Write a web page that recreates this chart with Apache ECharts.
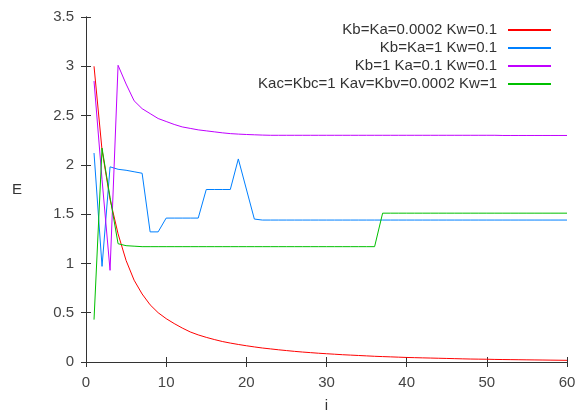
<!DOCTYPE html>
<html>
<head>
<meta charset="utf-8">
<script src="https://cdn.jsdelivr.net/npm/echarts@6/dist/echarts.min.js"></script>
<style>
html,body{margin:0;padding:0;background:#fff;}
#chart{width:576px;height:412px;}
</style>
</head>
<body>
<div id="chart"></div>
<script>
const steps = [1,2,3,4,5,6,7,8,9,10,11,12,13,14,15,16,17,18,19,20,21,22,23,24,25,26,27,28,29,30,31,32,33,34,35,36,37,38,39,40,41,42,43,44,45,46,47,48,49,50,51,52,53,54,55,56,57,58,59,60];

const seriesNames = [
  "Kb=Ka=0.0002 Kw=0.1",
  "Kb=Ka=1 Kw=0.1",
  "Kb=1 Ka=0.1 Kw=0.1",
  "Kac=Kbc=1 Kav=Kbv=0.0002 Kw=1"
];

const redE = [3.00,2.15,1.65,1.30,1.03,0.83,0.69,0.58,0.50,0.44,0.39,0.345,0.305,0.275,0.25,0.228,0.208,0.192,0.178,0.165,
  0.153,0.142,0.133,0.124,0.116,0.108,0.101,0.095,0.089,0.084,0.079,0.074,0.070,0.066,0.062,0.058,0.055,0.052,0.049,0.046,
  0.044,0.042,0.040,0.038,0.036,0.034,0.032,0.030,0.029,0.028,0.026,0.025,0.024,0.023,0.022,0.021,0.020,0.019,0.018,0.017];

const blueE = [2.12,0.97,1.98,1.955,1.945,1.93,1.915,1.32,1.32,1.46,1.46,1.46,1.46,1.46,1.75,1.75,1.75,1.75,2.06,1.755,
  1.45,1.44,1.44,1.44,1.44,1.44,1.44,1.44,1.44,1.44,1.44,1.44,1.44,1.44,1.44,1.44,1.44,1.44,1.44,1.44,
  1.44,1.44,1.44,1.44,1.44,1.44,1.44,1.44,1.44,1.44,1.44,1.44,1.44,1.44,1.44,1.44,1.44,1.44,1.44,1.44];

const magentaE = [2.85,1.85,0.93,3.01,2.82,2.65,2.57,2.52,2.47,2.44,2.41,2.385,2.37,2.355,2.345,2.335,2.325,2.317,2.312,2.308,
  2.305,2.302,2.300,2.300,2.300,2.300,2.300,2.300,2.300,2.300,2.300,2.300,2.300,2.300,2.300,2.300,2.300,2.300,2.300,2.300,
  2.300,2.300,2.300,2.300,2.300,2.300,2.300,2.300,2.300,2.300,2.300,2.298,2.298,2.298,2.298,2.298,2.298,2.298,2.298,2.298];

const greenE = [0.43,2.17,1.67,1.20,1.18,1.175,1.17,1.17,1.17,1.17,1.17,1.17,1.17,1.17,1.17,1.17,1.17,1.17,1.17,1.17,
  1.17,1.17,1.17,1.17,1.17,1.17,1.17,1.17,1.17,1.17,1.17,1.17,1.17,1.17,1.17,1.17,1.51,1.51,1.51,1.51,
  1.51,1.51,1.51,1.51,1.51,1.51,1.51,1.51,1.51,1.51,1.51,1.51,1.51,1.51,1.51,1.51,1.51,1.51,1.51,1.51];

const xTicks = {min: 0, max: 60, interval: 10};
const yTicks = {min: 0, max: 3.5, interval: 0.5};

const colors = ['#ff0000', '#0080ff', '#c000ff', '#00c000'];
const allValues = [redE, blueE, magentaE, greenE];
const FONT = 'Liberation Sans';
const legendTops = [22, 40, 58, 76];

const chart = echarts.init(document.getElementById('chart'), null, {renderer: 'canvas'});

const series = seriesNames.map((name, k) => ({
  name: name,
  type: 'line',
  data: steps.map((s, j) => [s, allValues[k][j]]),
  showSymbol: false,
  symbol: 'none',
  lineStyle: {color: colors[k], width: 1},
  itemStyle: {color: colors[k]},
  emphasis: {disabled: true},
  animation: false,
  z: 2
}));

const legends = seriesNames.map((name, k) => ({
  data: [name],
  right: 25,
  top: legendTops[k],
  padding: 0,
  align: 'right',
  orient: 'vertical',
  itemWidth: 43,
  itemHeight: 2,
  icon: 'rect',
  selectedMode: false,
  textStyle: {fontFamily: FONT, fontSize: 15, lineHeight: 16, color: '#333', padding: [0, 6, 0, 0]}
}));

const axisLineStyle = {color: '#333', width: 1};

chart.setOption({
  backgroundColor: '#fff',
  animation: false,
  color: colors,
  legend: legends,
  grid: {left: 86, right: 9, top: 17, bottom: 50, containLabel: false, outerBoundsMode: 'none'},
  xAxis: [{
    type: 'value', min: xTicks.min, max: xTicks.max, interval: xTicks.interval,
    position: 'bottom',
    name: 'i', nameLocation: 'middle', nameGap: 36,
    nameTextStyle: {fontFamily: FONT, fontSize: 15, color: '#333'},
    axisLine: {show: true, lineStyle: axisLineStyle},
    axisTick: {show: true, inside: true, length: 5, lineStyle: axisLineStyle},
    axisLabel: {fontFamily: FONT, fontSize: 15, color: '#444', margin: 13},
    splitLine: {show: false}
  }, {
    type: 'value', min: xTicks.min, max: xTicks.max, interval: xTicks.interval,
    position: 'top',
    axisLine: {show: true, lineStyle: axisLineStyle},
    axisTick: {show: true, inside: true, length: 5, lineStyle: axisLineStyle},
    axisLabel: {show: false},
    splitLine: {show: false}
  }],
  yAxis: [{
    type: 'value', min: yTicks.min, max: yTicks.max, interval: yTicks.interval,
    position: 'left',
    name: 'E', nameLocation: 'middle', nameGap: 64, nameRotate: 0,
    nameTextStyle: {fontFamily: FONT, fontSize: 15, color: '#333'},
    axisLine: {show: true, lineStyle: axisLineStyle},
    axisTick: {show: true, inside: true, length: 5, lineStyle: axisLineStyle},
    axisLabel: {fontFamily: FONT, fontSize: 15, color: '#444', margin: 12},
    splitLine: {show: false}
  }, {
    type: 'value', min: yTicks.min, max: yTicks.max, interval: yTicks.interval,
    position: 'right',
    axisLine: {show: true, lineStyle: axisLineStyle},
    axisTick: {show: true, inside: true, length: 5, lineStyle: axisLineStyle},
    axisLabel: {show: false},
    splitLine: {show: false}
  }],
  series: series
});
</script>
</body>
</html>
